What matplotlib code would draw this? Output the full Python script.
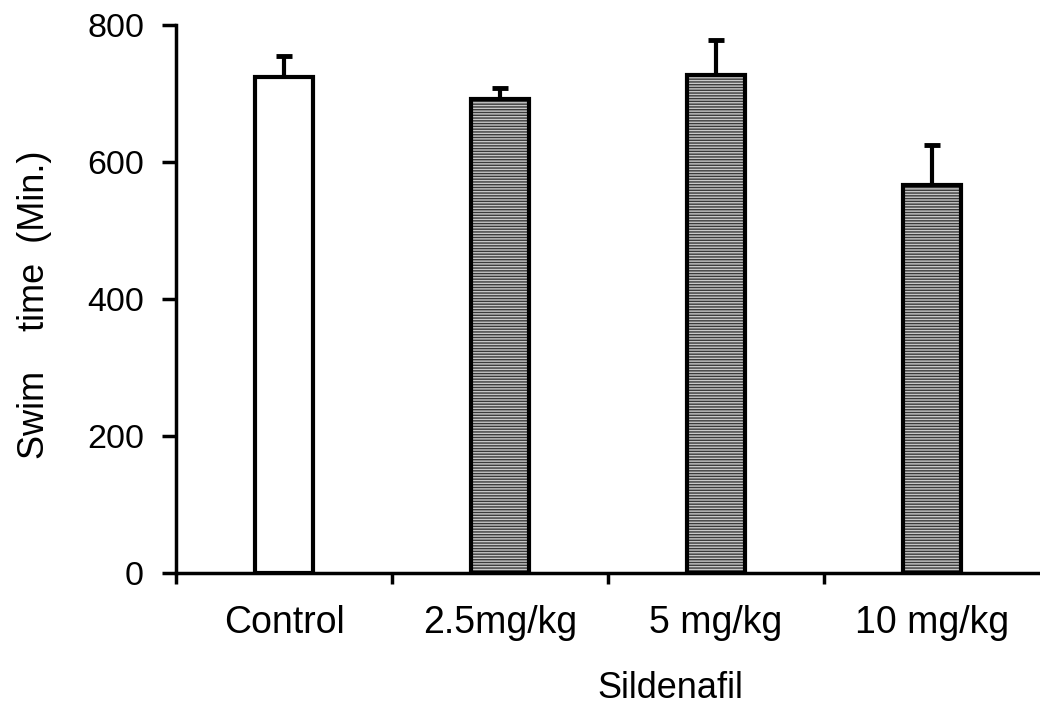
import numpy as np
import matplotlib
matplotlib.use("Agg")
import matplotlib.pyplot as plt

plt.rcParams['font.family'] = ['Liberation Sans', 'DejaVu Sans']

groups = ['Control', '2.5mg/kg', '5 mg/kg', '10 mg/kg']
means = [724, 692, 727, 566]
errs = [31, 16, 51, 59]

fig = plt.figure(figsize=(10.4, 7.13), dpi=100)
ax = fig.add_axes([176/1040, 1 - 573/713, (1040 - 176)/1040, 548/713])

x = np.arange(len(groups))
w = 0.27

# hatched fill for the drug bars, white for control
for i in range(len(groups)):
    if i == 0:
        ax.bar(x[i], means[i], w, color='white', edgecolor='black', linewidth=3, zorder=2)
    else:
        ax.bar(x[i], means[i], w, color='#c8c8c8', edgecolor='#3a3a3a', hatch='------',
               linewidth=0, zorder=2)
        ax.bar(x[i], means[i], w, fill=False, edgecolor='black', linewidth=3, zorder=3)

ax.errorbar(x, means, yerr=[np.zeros(len(errs)), errs], fmt='none', ecolor='black',
            elinewidth=3, capsize=6, capthick=3.5, zorder=1)

ax.set_xlim(-0.5, 3.5)
ax.set_ylim(0, 800)
ax.set_yticks([0, 200, 400, 600, 800])
ax.set_xticks(x - 0.5)
ax.set_xticklabels([])
ax.set_xticks(x, minor=True)
ax.set_xticklabels(groups, minor=True)
ax.tick_params(axis='x', which='minor', length=0, pad=23, labelsize=27)
ax.tick_params(axis='x', which='major', direction='out', length=8, width=2.5)
ax.tick_params(axis='y', direction='out', length=10, width=2.5, labelsize=24.5, pad=13)

ax.spines['top'].set_visible(False)
ax.spines['right'].set_visible(False)
ax.spines['left'].set_linewidth(2.5)
ax.spines['bottom'].set_linewidth(2.5)

fig.text(670/1040, 1 - 688/713, 'Sildenafil', fontsize=26, ha='center', va='center')
fig.text(35/1040, 1 - 305/713, 'Swim    time  (Min.)', fontsize=26, rotation=90,
         ha='center', va='center')

fig.savefig('out.png', dpi=100)
